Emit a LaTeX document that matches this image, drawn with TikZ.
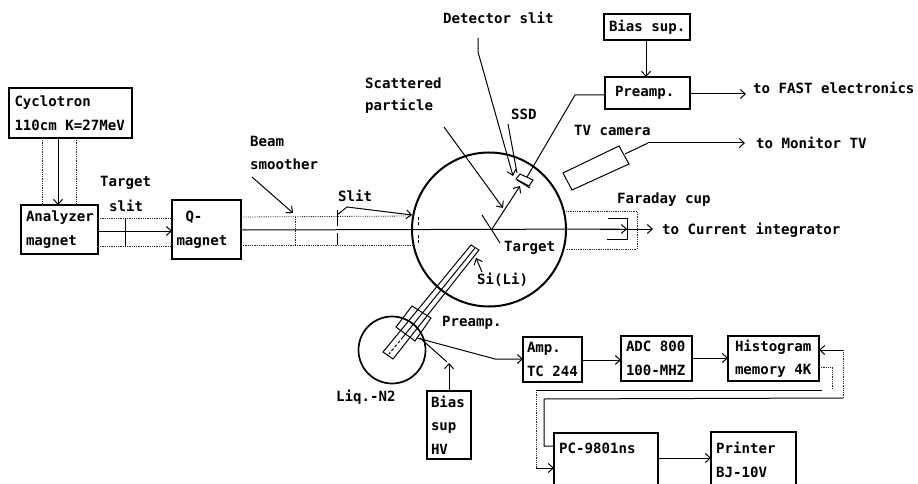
\documentclass[tikz,border=0pt]{standalone}
\usepackage{fontspec}
\setmainfont{DejaVu Sans Mono}[BoldFont={DejaVu Sans Mono Bold}]
\usetikzlibrary{arrows.meta}
\newcommand{\msp}{\kern8.49pt\relax}
\tikzset{
 x=1pt,y=-1pt,
 lab/.style={font=\fontsize{14.1}{23.5}\selectfont\bfseries,inner sep=0pt,anchor=west},
 box/.style={draw,line width=2pt,inner sep=0pt,outer sep=0pt,font=\fontsize{14.1}{23.5}\selectfont\bfseries,align=left},
 ln/.style={line width=1pt},
 dot/.style={line width=0.8pt,densely dotted,black!85},
 arr/.style={ln,-{Straight Barb[length=5pt,width=9pt]}},
}
\begin{document}
\begin{tikzpicture}
\useasboundingbox (0,0) rectangle (918,484);
% boxes
\node[box,minimum width=123pt,minimum height=50pt,text width=112pt] (cyc) at (70.5,113) {Cyclotron\\110cm\msp K=27MeV};
\node[box,minimum width=77pt,minimum height=49pt,text width=67pt] (ana) at (59.5,229.5) {Analyzer\\magnet};
\node[box,minimum width=69pt,minimum height=59pt,text width=60pt] (qm) at (206.5,229.5) {\hspace*{9pt}Q-\\magnet};
\node[box,minimum width=86pt,minimum height=26pt,text width=76pt] (bias) at (647,27) {Bias\msp sup.};
\node[box,minimum width=85pt,minimum height=32pt,text width=65pt] (pre) at (647.5,93) {\raisebox{3pt}{Preamp.}};
\node[box,minimum width=59pt,minimum height=45pt,text width=51pt] (amp) at (552.5,359.5) {Amp.\\TC\msp 244};
\node[box,minimum width=71pt,minimum height=45pt,text width=61pt] (adc) at (656.5,358.5) {ADC\msp 800\\100-MHZ};
\node[box,minimum width=91pt,minimum height=45pt,text width=77pt] (his) at (773.5,358.5) {Histogram\\memory\msp 4K};
\node[box,minimum width=44pt,minimum height=68pt,text width=36pt] (hv) at (449,425) {Bias\\sup\\HV};
\draw[line width=2pt] (554,484.5) -- (554,433) -- (658,433) -- (658,484.5);
\draw[line width=2pt] (711,484.5) -- (711,432) -- (796,432) -- (796,484.5);
\coordinate (cc) at (489,229.5);
\coordinate (lq) at (392,350);
\draw[line width=2pt] (cc) circle (77);
\draw[line width=1.7pt] (lq) circle (33.5);
% labels
\node[lab] at (100,183) {Target};
\node[lab] at (109,206) {slit};
\node[lab] at (250,141) {Beam};
\node[lab] at (250,164) {smoother};
\node[lab] at (338,196) {Slit};
\node[lab] at (365,83) {Scattered};
\node[lab] at (365,106) {particle};
\node[lab] at (443,18) {Detector slit};
\node[lab] at (511,114) {SSD};
\node[lab] at (574,130) {TV camera};
\node[lab] at (753,88) {to FAST electronics};
\node[lab] at (756,143) {to Monitor TV};
\node[lab] at (617,200) {Faraday cup};
\node[lab] at (662,230) {to Current integrator};
\node[lab] at (504,248) {Target};
\node[lab] at (477,280) {Si(Li)};
\node[lab] at (442,323) {Preamp.};
\node[lab] at (336,397) {Liq.-N2};
\node[lab] at (559,448) {PC-9801ns};
\node[lab] at (716,448) {Printer};
\node[lab] at (716,472) {BJ-10V};
% cyclotron to analyzer
\draw[arr] (58,0 |- cyc.south) -- (58,0 |- ana.north);
\draw[dot] (42,0 |- cyc.south) -- (42,0 |- ana.north);
\draw[dot] (76,0 |- cyc.south) -- (76,0 |- ana.north);
% analyzer to Q
\draw[arr] (ana.east |- 0,231) -- (qm.west |- 0,231);
\draw[dot] (ana.east |- 0,218) -- (qm.west |- 0,218);
\draw[dot] (ana.east |- 0,246) -- (qm.west |- 0,246);
\draw[ln] (125,218) -- (125,246);
% Q to chamber and beyond
\draw[ln] (qm.east |- 0,230) -- (620,229);
\draw[arr] (600,229) -- (653,229);
\draw[arr] (610,229) -- (627,229);
\draw[dot] (qm.east |- 0,217) -- (413,216);
\draw[dot] (qm.east |- 0,245) -- (413,245);
\draw[dot] (295,217) -- (295,245);
\draw[ln] (337,210) -- (337,226);
\draw[ln] (337,233) -- (337,245);
\draw[arr] (252,177) -- (293,213);
\draw[arr] (337,215) -- (347,207) -- (412,215);
\draw[ln,densely dashed] (418,217) -- (418,226);
\draw[ln,densely dashed] (418,235) -- (418,245);
\draw[dot] (566,211) -- (637,211) -- (637,249) -- (566,249);
\draw[ln] (608,218) -- (627,218) -- (627,239) -- (607,239);
\draw[ln] (482,215) -- (500,243);
\draw[arr] (492,229) -- (520,186);
\draw[arr] (444,127) -- (503,208);
\draw[arr] (478,38) -- (478,52) -- (513,176);
\draw[ln] (508,124) -- (517,173);
\draw[ln] (517,180) -- (530,188);
\draw[ln] (520,174) -- (533,180) -- (529,186) -- (516,179) -- cycle;
\draw[ln] (527,177) -- (575,95) -- (pre.west |- 0,95);
\draw[ln] (563,173) -- (619,146) -- (629,164) -- (572,190) -- cycle;
\draw[ln] (625,154) -- (648,143);
\draw[arr] (648,143) -- (745,143);
\draw[arr] (pre.east |- 0,94) -- (746,94);
\draw[arr] (bias.south -| 646,0) -- (pre.north -| 646,0);
% Si(Li)
\draw[ln] (471,245) -- (479,250) -- (393,359) -- (383,352) -- cycle;
\draw[ln] (475,248) -- (403,337);
\draw[ln,densely dashed] (403,337) -- (389,354);
\draw[ln] (412,306) -- (431,318) -- (415,341) -- (396,327) -- cycle;
\draw[arr] (482,272) -- (476,258);
\draw[arr] (417,338) -- (495,359) -- (amp.west |- 0,359);
\draw[ln] (420,338) -- (447,362);
\draw[arr] (hv.north) -- (449,363);
\draw[arr] (amp.east |- 0,360) -- (adc.west |- 0,360);
\draw[arr] (adc.east |- 0,358) -- (his.west |- 0,358);
\draw[dot] (his.east |- 0,367) -- (832,367) -- (832,390);
\draw[ln] (822,390) -- (536,390);
\draw[dot] (536,390) -- (536,468);
\draw[arr] (536,468) -- (554,468);
\draw[ln] (554,446) -- (544,446) -- (544,399) -- (843,398);
\draw[dot] (843,398) -- (843,350);
\draw[arr] (843,350) -- (his.east |- 0,350);
\draw[arr] (658,458) -- (711,458);
\end{tikzpicture}
\end{document}
